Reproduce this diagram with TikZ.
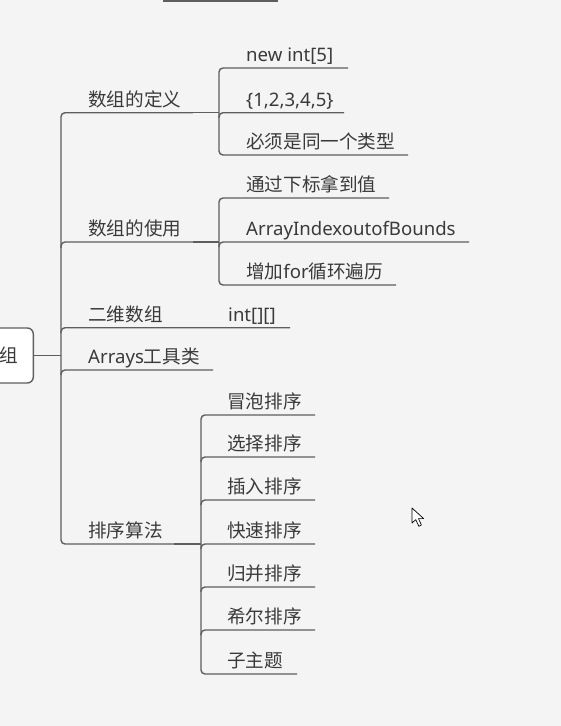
\documentclass[tikz,border=0pt]{standalone}
\usepackage{fontspec}
\setmainfont{Noto Sans}
\newfontfamily\cjk{Noto Sans CJK SC}
\definecolor{bgc}{HTML}{F4F4F4}
\definecolor{linec}{HTML}{5E5E5E}
\definecolor{txtc}{HTML}{3A3A3A}
\begin{document}
\begin{tikzpicture}[x=1pt,y=-1pt]
\tikzset{
  ln/.style={draw=linec, line width=1.4pt, rounded corners=4pt},
  lbl/.style={anchor=base west, inner sep=0pt, text=txtc, font=\fontsize{18.6}{18.6}\selectfont},
  rootbox/.style={draw=linec, line width=1.4pt, rounded corners=6pt, fill=white, minimum width=60pt, minimum height=55pt, anchor=east, inner sep=0pt},
}
\fill[bgc] (0,0) rectangle (561,726);
\useasboundingbox (0,0) rectangle (561,726);

% partial line at top
\coordinate (topa) at (163,0.8);
\coordinate (topb) at (278,0.8);
\draw[draw=linec, line width=1.4pt] (topa) -- (topb);

% root
\node[rootbox] (root) at (34,355.5) {};
\node[lbl, anchor=base east] (rootlbl) at (18.5,362.5) {\cjk 组};

% main labels
\node[lbl] (def) at (88,106) {\cjk 数组的定义};
\node[lbl] (use) at (88,235.5) {\cjk 数组的使用};
\node[lbl] (two) at (88,321) {\cjk 二维数组};
\node[lbl] (arr) at (88,363.5) {Arrays{\cjk 工具类}};
\node[lbl] (sort) at (88,537.5) {\cjk 排序算法};

% children of def
\node[lbl] (d1) at (246,61.5) {new int[5]};
\node[lbl] (d2) at (246,106) {\{1,2,3,4,5\}};
\node[lbl] (d3) at (246,148.5) {\cjk 必须是同一个类型};
% children of use
\node[lbl] (u1) at (246,191.5) {\cjk 通过下标拿到值};
\node[lbl] (u2) at (246,235.5) {ArrayIndexoutofBounds};
\node[lbl] (u3) at (246,278.5) {{\cjk 增加}for{\cjk 循环遍历}};
% child of two
\node[lbl] (t1) at (228,321) {int[][]};
% children of sort
\node[lbl] (s1) at (227,408.5) {\cjk 冒泡排序};
\node[lbl] (s2) at (227,450.5) {\cjk 选择排序};
\node[lbl] (s3) at (227,493.5) {\cjk 插入排序};
\node[lbl] (s4) at (227,537.5) {\cjk 快速排序};
\node[lbl] (s5) at (227,580.5) {\cjk 归并排序};
\node[lbl] (s6) at (227,623.5) {\cjk 希尔排序};
\node[lbl] (s7) at (227,667.5) {\cjk 子主题};

% coordinates of the trunk and underlines
\coordinate (rj) at (61,355.5);
\coordinate (tTop) at (61,112.7);
\coordinate (tBot) at (61,544);
\coordinate (defE) at (193,112.7);
\coordinate (sortE) at (174,544);
\coordinate (use0) at (61,248);
\coordinate (useA) at (61,242);
\coordinate (useE) at (193,242);
\coordinate (two0) at (61,333);
\coordinate (twoA) at (61,327.7);
\coordinate (twoE) at (290,327.7);
\coordinate (arr0) at (61,375);
\coordinate (arrA) at (61,370);
\coordinate (arrE) at (213,370);

% root connector and trunk
\draw[ln] (root.east) -- (rj);
\draw[ln] (defE) -- (tTop) -- (tBot) -- (sortE);
\draw[ln] (use0) -- (useA) -- (useE);
\draw[ln] (two0) -- (twoA) -- (twoE);
\draw[ln] (arr0) -- (arrA) -- (arrE);

% def subtree
\coordinate (dv) at (219,112.7);
\coordinate (dTop) at (219,68);
\coordinate (dBot) at (219,155);
\coordinate (d1E) at (348,68);
\coordinate (d2s) at (219,118);
\coordinate (d2E) at (344,112.7);
\coordinate (d3E) at (408,155);
\draw[ln] (defE) -- (dv);
\draw[ln] (d1E) -- (dTop) -- (dBot) -- (d3E);
\draw[ln] (d2s) -- (dv) -- (d2E);

% use subtree
\coordinate (uv) at (219,242);
\coordinate (uTop) at (219,198);
\coordinate (uBot) at (219,285);
\coordinate (u1E) at (389,198);
\coordinate (u2s) at (219,247);
\coordinate (u2E) at (469,242);
\coordinate (u3E) at (396,285);
\draw[ln] (useE) -- (uv);
\draw[ln] (u1E) -- (uTop) -- (uBot) -- (u3E);
\draw[ln] (u2s) -- (uv) -- (u2E);

% sort subtree
\coordinate (sv) at (201,544);
\coordinate (sTop) at (201,415);
\coordinate (sBot) at (201,674);
\coordinate (s1E) at (315,415);
\coordinate (s7E) at (297,674);
\draw[ln, line width=2.4pt, rounded corners=0pt] (sortE) -- (sv);
\draw[ln] (s1E) -- (sTop) -- (sBot) -- (s7E);
\foreach \n/\yy in {2/457,3/500,4/544,5/587,6/630}{
  \coordinate (s\n a) at (201,\yy+5);
  \coordinate (s\n b) at (201,\yy);
  \coordinate (s\n E) at (315,\yy);
  \draw[ln] (s\n a) -- (s\n b) -- (s\n E);
}

% mouse pointer
\filldraw[fill=white, draw=black, line width=0.7pt, line join=round]
  (412,508) -- (412,523) -- (415.8,519.6) -- (418.8,526.2) -- (421.4,525) -- (418.5,518.6) -- (423.6,518.6) -- cycle;
\end{tikzpicture}
\end{document}
